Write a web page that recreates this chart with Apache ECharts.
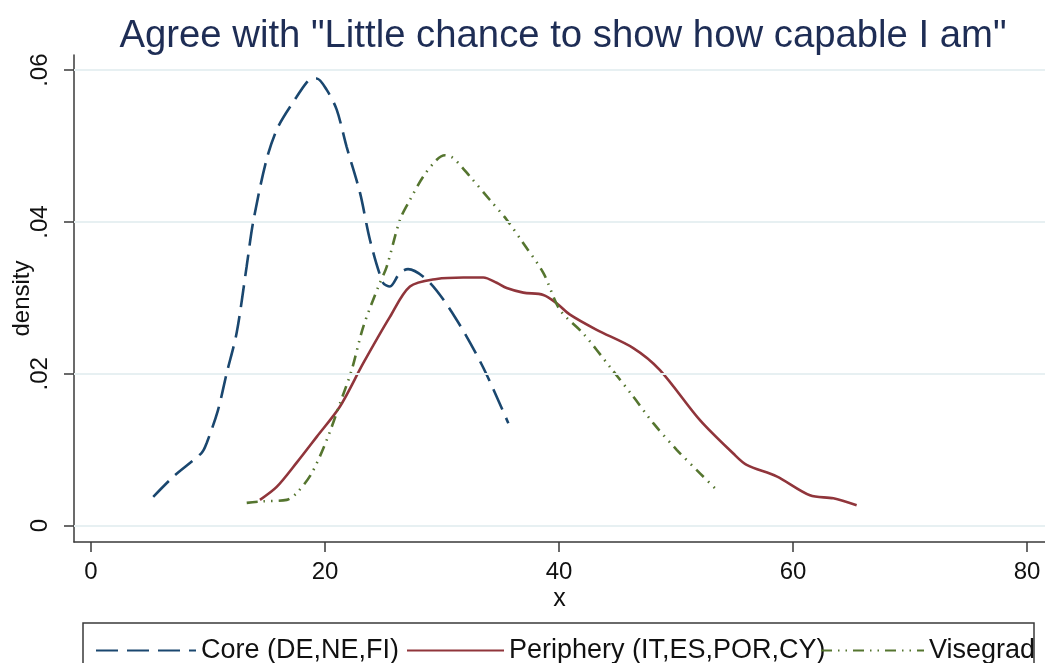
<!DOCTYPE html>
<html>
<head>
<meta charset="utf-8">
<title>Agree with "Little chance to show how capable I am"</title>
<script src="https://cdn.jsdelivr.net/npm/echarts@6/dist/echarts.min.js"></script>
<style>
  html, body { margin: 0; padding: 0; background: #ffffff; }
  #chart { width: 1045px; height: 663px; }
</style>
</head>
<body>
<div id="chart"></div>
<script>
// Kernel density estimates of the share agreeing, by country group
const chartTitle = 'Agree with "Little chance to show how capable I am"';

const coreName = 'Core (DE,NE,FI)';
const coreX = [5.32, 7.0, 9.46, 9.89, 10.85, 11.6, 12.45, 13.3, 13.85, 15.0, 15.98, 17.58, 18.44, 18.86, 19.29,
  20.15, 21.0, 21.85, 23.0, 23.85, 24.96, 25.55, 26.4, 27.1, 28.97, 31.26, 33.5, 35.67];
const coreY = [0.0038, 0.0064, 0.0096, 0.0109, 0.0152, 0.0201, 0.0254, 0.0341, 0.0399, 0.0482, 0.0525, 0.0565, 0.0584, 0.0589, 0.0589,
  0.0574, 0.0548, 0.0499, 0.0438, 0.0376, 0.0320, 0.0315, 0.0333, 0.0338, 0.0320, 0.0271, 0.0209, 0.0135];

const periName = 'Periphery (IT,ES,POR,CY)';
const periX = [14.44, 15.87, 17.58, 19.29, 21.28, 23.27, 25.55, 27.26, 29.55, 31.82, 33.53, 34.67, 35.53, 36.95,
  38.66, 39.8, 40.94, 43.22, 46.35, 48.63, 52.05, 54.9, 56.04, 58.6, 61.45, 63.45, 65.44];
const periY = [0.0034, 0.0051, 0.0083, 0.0117, 0.0157, 0.0214, 0.0275, 0.0315, 0.0325, 0.0327, 0.0327, 0.0320, 0.0313, 0.0307,
  0.0304, 0.0293, 0.0278, 0.0258, 0.0234, 0.0205, 0.0139, 0.0095, 0.0080, 0.0065, 0.0040, 0.0036, 0.0027];

const viseName = 'Visegrad';
const viseX = [13.31, 14.59, 16.73, 17.58, 18.86, 20.15, 21.28, 22.28, 23.27, 24.56, 25.27, 26.41, 27.26, 28.4, 29.55,
  30.26, 30.97, 32.39, 34.1, 35.53, 36.95, 38.66, 40.09, 42.08, 44.36, 46.35, 48.06, 50.06, 52.05, 53.62];
const viseY = [0.0030, 0.0032, 0.0034, 0.0043, 0.0069, 0.0113, 0.0161, 0.0205, 0.0262, 0.0315, 0.0341, 0.0403, 0.0429, 0.0460, 0.0482,
  0.0488, 0.0484, 0.0460, 0.0429, 0.0403, 0.0372, 0.0333, 0.0284, 0.0253, 0.0209, 0.0170, 0.0135, 0.0100, 0.0069, 0.0045];

const xTicks = [0, 20, 40, 60, 80];
const xTickLabels = ['0', '20', '40', '60', '80'];
const yTicks = [0, 0.02, 0.04, 0.06];
const yTickLabels = ['0', '.02', '.04', '.06'];

const zip = (xs, ys) => xs.map((x, i) => [x, ys[i]]);
const labelFor = (ticks, labels) => (v) => {
  const i = ticks.findIndex(t => Math.abs(t - v) < 1e-9);
  return i >= 0 ? labels[i] : '';
};

const FONT = '"Liberation Sans", Arial, sans-serif';
const AXIS_COLOR = '#3a3a3a';

const chart = echarts.init(document.getElementById('chart'), null, { renderer: 'canvas' });

const legendBase = {
  orient: 'horizontal',
  top: 637,
  itemHeight: 14,
  padding: 0,
  selectedMode: false,
  itemStyle: { opacity: 0 },
  textStyle: { fontFamily: FONT, fontSize: 27, color: '#111111' }
};

chart.setOption({
  animation: false,
  backgroundColor: '#ffffff',
  title: {
    text: chartTitle,
    left: 558,
    textAlign: 'center',
    top: 12,
    textStyle: { fontFamily: FONT, fontSize: 38.3, fontWeight: 'normal', color: '#1e2d55' }
  },
  grid: { left: 74, right: 0, top: 55, bottom: 121, containLabel: false, outerBoundsMode: 'none' },
  xAxis: {
    type: 'value',
    min: -1.453,
    max: 81.54,
    name: 'x',
    nameLocation: 'middle',
    nameGap: 45,
    nameMoveOverlap: false,
    nameTextStyle: { fontFamily: FONT, fontSize: 25, color: '#111111' },
    axisLine: { show: true, onZero: false, lineStyle: { color: AXIS_COLOR, width: 1.5 } },
    axisTick: { show: true, length: 10, customValues: xTicks, lineStyle: { color: AXIS_COLOR, width: 1.5 } },
    axisLabel: {
      customValues: xTicks,
      formatter: labelFor(xTicks, xTickLabels),
      margin: 18,
      fontFamily: FONT, fontSize: 24, color: '#111111'
    },
    splitLine: { show: false }
  },
  yAxis: {
    type: 'value',
    min: -0.00215,
    max: 0.0620,
    name: 'density',
    nameLocation: 'middle',
    nameGap: 40,
    nameMoveOverlap: false,
    nameTextStyle: { fontFamily: FONT, fontSize: 24, color: '#111111' },
    axisLine: { show: true, onZero: false, lineStyle: { color: AXIS_COLOR, width: 1.5 } },
    axisTick: { show: true, length: 10, customValues: yTicks, lineStyle: { color: AXIS_COLOR, width: 1.5 } },
    axisLabel: {
      customValues: yTicks,
      formatter: labelFor(yTicks, yTickLabels),
      rotate: 90,
      margin: 22,
      fontFamily: FONT, fontSize: 24, color: '#111111'
    },
    splitLine: { show: false }
  },
  legend: [
    Object.assign({}, legendBase, { left: 95, itemWidth: 100, data: [coreName] }),
    Object.assign({}, legendBase, { left: 406, itemWidth: 97, data: [periName] }),
    Object.assign({}, legendBase, { left: 820, itemWidth: 103, data: [viseName] })
  ],
  graphic: [{
    type: 'rect',
    silent: true,
    shape: { x: 83, y: 623, width: 951, height: 70 },
    style: { fill: 'none', stroke: '#3a3a3a', lineWidth: 1.5 }
  }],
  series: [
    {
      // horizontal reference lines at the labelled density ticks
      name: 'grid',
      type: 'line',
      data: [],
      z: 1,
      silent: true,
      markLine: {
        silent: true,
        symbol: ['none', 'none'],
        label: { show: false },
        lineStyle: { color: '#e7f0f2', width: 2, type: 'solid' },
        data: yTicks.map(v => ({ yAxis: v }))
      }
    },
    {
      name: coreName,
      type: 'line',
      data: zip(coreX, coreY),
      symbol: 'none',
      smooth: 0.3,
      z: 3,
      lineStyle: { color: '#1a476f', width: 2.6, type: [22, 9] },
      itemStyle: { color: '#1a476f' }
    },
    {
      name: periName,
      type: 'line',
      data: zip(periX, periY),
      symbol: 'none',
      smooth: 0.3,
      z: 3,
      lineStyle: { color: '#90353b', width: 2.6, type: 'solid' },
      itemStyle: { color: '#90353b' }
    },
    {
      name: viseName,
      type: 'line',
      data: zip(viseX, viseY),
      symbol: 'none',
      smooth: 0.3,
      z: 3,
      lineStyle: { color: '#55752f', width: 2.6, type: [11, 6, 1.5, 6, 1.5, 6] },
      itemStyle: { color: '#55752f' }
    }
  ]
});
</script>
</body>
</html>
